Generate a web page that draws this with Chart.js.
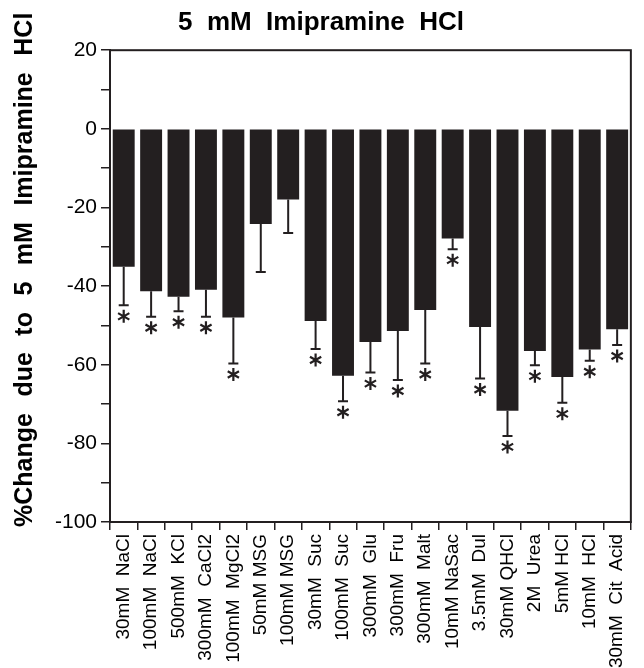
<!DOCTYPE html>
<html>
<head>
<meta charset="utf-8">
<script src="https://cdn.jsdelivr.net/npm/chart.js@4"></script>
<style>
    body { margin: 0; background: #fff; }
    #wrap { width: 644px; height: 668px; position: relative; }
</style>
</head>
<body>
<div id="wrap"><canvas id="chart"></canvas></div>
<script>
// Stimuli tested
const stimuli = [
    '30mM  NaCl', '100mM  NaCl', '500mM  KCl', '300mM  CaCl2', '100mM  MgCl2',
    '50mM MSG', '100mM MSG', '30mM  Suc', '100mM  Suc', '300mM  Glu',
    '300mM  Fru', '300mM  Malt', '10mM NaSac', '3.5mM  Dul', '30mM QHCl',
    '2M  Urea', '5mM HCl', '10mM  HCl', '30mM  Cit  Acid'
];

// Mean % change and error (downward whisker)
const percentChange = [
    -35.1, -41.3, -42.7, -40.9, -48.0, -24.2, -18.0, -48.9, -62.8, -54.2,
    -51.4, -46.1, -27.9, -50.4, -71.7, -56.5, -63.1, -56.1, -51.0
];
const errors = [
    9.8, 6.5, 3.7, 6.9, 11.7, 12.2, 8.5, 7.1, 6.5, 7.8,
    12.5, 13.6, 2.7, 13.1, 6.4, 3.6, 6.6, 2.9, 4.0
];

// Significant differences (asterisk)
const significant = [
    true, true, true, true, true, false, false, true, true, true,
    true, true, true, true, true, true, true, true, true
];

const yTitleWords = ['%Change', 'due', 'to', '5', 'mM', 'Imipramine', 'HCl'];

const fontFamily = "'Liberation Sans', Arial, Helvetica, sans-serif";

// Error bars + asterisks drawn from the scales
const errorBarPlugin = {
    id: 'errorBars',
    afterDatasetsDraw(chart) {
        const ctx = chart.ctx;
        const y = chart.scales.y;
        const meta = chart.getDatasetMeta(0);
        ctx.save();
        ctx.strokeStyle = '#231f20';
        ctx.lineWidth = 2;
        meta.data.forEach((bar, i) => {
            const cx = bar.x;
            const y0 = y.getPixelForValue(percentChange[i]);
            const y1 = y.getPixelForValue(percentChange[i] - errors[i]);
            ctx.beginPath();
            ctx.moveTo(cx, y0);
            ctx.lineTo(cx, y1);
            ctx.moveTo(cx - 5, y1);
            ctx.lineTo(cx + 5, y1);
            ctx.stroke();

            if (significant[i]) {
                // six-armed asterisk
                const ay = y1 + 11;
                const r = 6.5;
                ctx.lineWidth = 2.2;
                ctx.beginPath();
                for (let k = 0; k < 3; k++) {
                    const a = Math.PI / 2 + k * Math.PI / 3;
                    ctx.moveTo(cx - r * Math.cos(a), ay - r * Math.sin(a));
                    ctx.lineTo(cx + r * Math.cos(a), ay + r * Math.sin(a));
                }
                ctx.stroke();
                ctx.lineWidth = 2;
            }
        });
        ctx.restore();
    }
};

// Box around the plot area + rotated y title
const framePlugin = {
    id: 'frame',
    afterDraw(chart) {
        const a = chart.chartArea;
        const ctx = chart.ctx;
        ctx.save();
        ctx.strokeStyle = '#231f20';
        ctx.lineWidth = 2;
        ctx.strokeRect(a.left, a.top, a.right - a.left, a.bottom - a.top);

        // y axis title, words spread out like the original
        ctx.translate(25, a.bottom + 5);
        ctx.rotate(-Math.PI / 2);
        ctx.fillStyle = '#000';
        ctx.font = 'bold 25px ' + fontFamily;
        ctx.textBaseline = 'middle';
        ctx.textAlign = 'left';
        let pos = 0;
        yTitleWords.forEach(w => {
            ctx.fillText(w, pos, 0);
            pos += ctx.measureText(w).width + 16.5;
        });
        ctx.restore();
    }
};

const ctx = document.getElementById('chart').getContext('2d');
new Chart(ctx, {
    type: 'bar',
    data: {
        labels: stimuli,
        datasets: [{
            data: percentChange,
            backgroundColor: '#231f20',
            borderWidth: 0,
            categoryPercentage: 1,
            barPercentage: 0.8
        }]
    },
    options: {
        responsive: true,
        maintainAspectRatio: false,
        animation: false,
        layout: {
            padding: { left: 0, right: 2, top: 0, bottom: 0 }
        },
        scales: {
            x: {
                grid: {
                    drawOnChartArea: false,
                    drawTicks: true,
                    tickLength: 8,
                    color: '#231f20',
                    lineWidth: 1.5
                },
                border: { color: '#231f20', width: 2 },
                ticks: {
                    color: '#000',
                    minRotation: 90,
                    maxRotation: 90,
                    autoSkip: false,
                    padding: 4,
                    font: { family: fontFamily, size: 19 }
                },
                afterFit(scale) {
                    scale.height = 146;
                }
            },
            y: {
                min: -100,
                max: 20,
                grid: {
                    drawOnChartArea: false,
                    drawTicks: true,
                    tickLength: 9,
                    color: '#231f20',
                    lineWidth: 1.5
                },
                border: { color: '#231f20', width: 2 },
                ticks: {
                    stepSize: 10,
                    color: '#000',
                    padding: 4,
                    font: { family: fontFamily, size: 21 },
                    callback: v => (v % 20 === 0 ? v : '')
                },
                afterFit(scale) {
                    scale.width = 110;
                }
            }
        },
        plugins: {
            legend: { display: false },
            tooltip: { enabled: false },
            title: {
                display: true,
                text: '5  mM  Imipramine  HCl',
                color: '#000',
                font: { family: fontFamily, size: 26, weight: 'bold' },
                padding: { top: 7, bottom: 12 }
            }
        }
    },
    plugins: [errorBarPlugin, framePlugin]
});
</script>
</body>
</html>
